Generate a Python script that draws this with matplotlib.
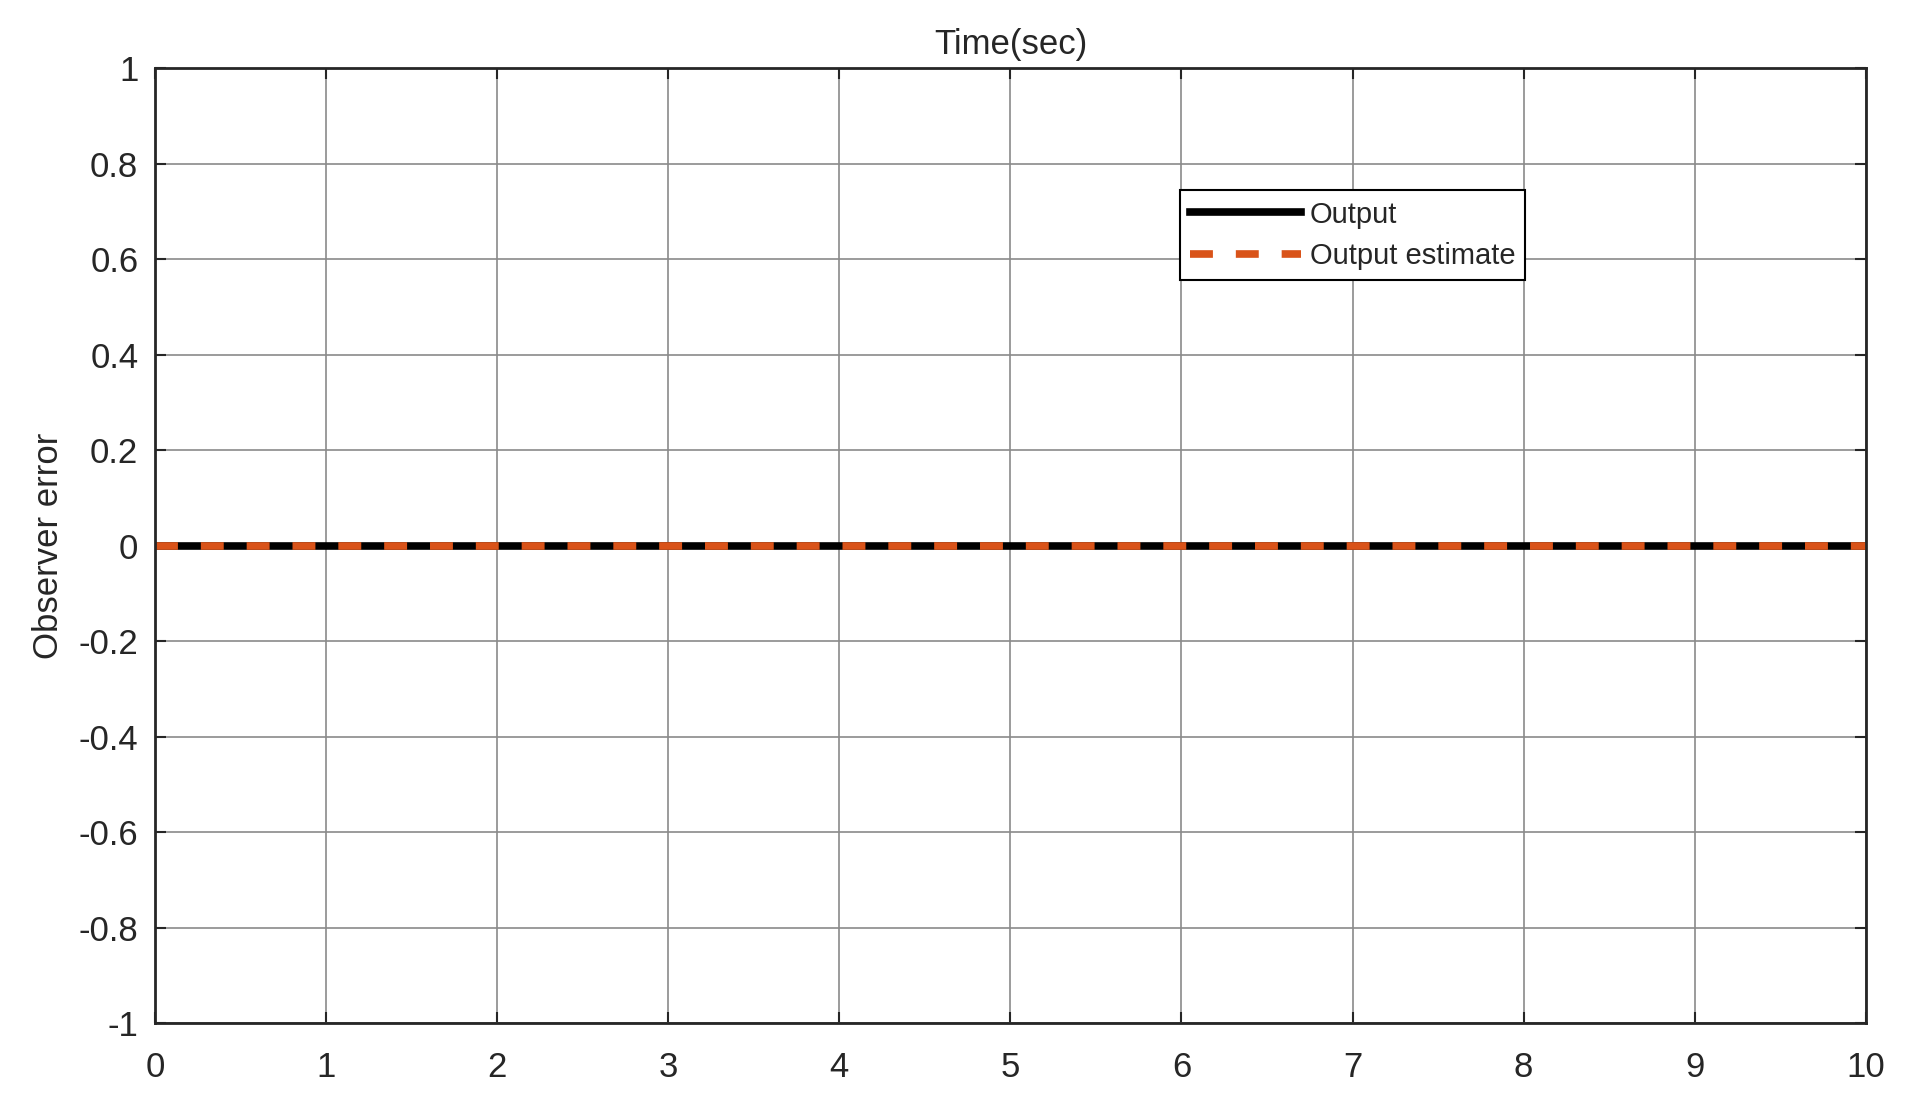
import numpy as np
import matplotlib
matplotlib.use("Agg")
import matplotlib.pyplot as plt

plt.rcParams['font.family'] = ['Liberation Sans', 'DejaVu Sans']

# 데이터 (관측기 오차는 전 구간에서 0)
time = [0, 2, 4, 6, 8, 10]
output = [0, 0, 0, 0, 0, 0]
output_estimate = [0, 0, 0, 0, 0, 0]
xticks = list(range(0, 11))
yticks = [-1, -0.8, -0.6, -0.4, -0.2, 0, 0.2, 0.4, 0.6, 0.8, 1]
ytick_labels = ['-1', '-0.8', '-0.6', '-0.4', '-0.2', '0', '0.2', '0.4', '0.6', '0.8', '1']

txt = '#262626'
orange = '#D95319'

fig = plt.figure(figsize=(19.18, 11.14), dpi=100)
ax = fig.add_axes([0.0808, 0.0817, 0.892, 0.857])

ax.plot(time, output, color='black', lw=5.5, label='Output')
ax.plot(time, output_estimate, color=orange, lw=5.5, linestyle=(0, (3.0, 3.0)),
        label='Output estimate')

ax.set_xlim(0, 10)
ax.set_ylim(-1, 1)
ax.set_xticks(xticks)
ax.set_yticks(yticks)
ax.set_yticklabels(ytick_labels)
ax.grid(True, color='#8a8a8a', lw=1.2)
ax.set_axisbelow(True)

ax.tick_params(direction='in', length=8, width=1.5, top=True, right=True,
               labelsize=25, colors=txt, pad=12)
ax.tick_params(axis='x', pad=20)
for s in ax.spines.values():
    s.set_linewidth(2)
    s.set_color('#262626')

ax.set_title('Time(sec)', fontsize=25, color=txt, pad=10)
ax.set_ylabel('Observer error', fontsize=25, color=txt, labelpad=10)

leg = ax.legend(loc='upper left', bbox_to_anchor=(0.599, 0.872), borderaxespad=0,
                fontsize=21, handlelength=3.8, handletextpad=0.3, fancybox=False,
                edgecolor='black', framealpha=1, borderpad=0.35, labelspacing=0.45)
leg.get_frame().set_linewidth(1.5)
for t in leg.get_texts():
    t.set_color(txt)

fig.savefig('out.png', dpi=100)
